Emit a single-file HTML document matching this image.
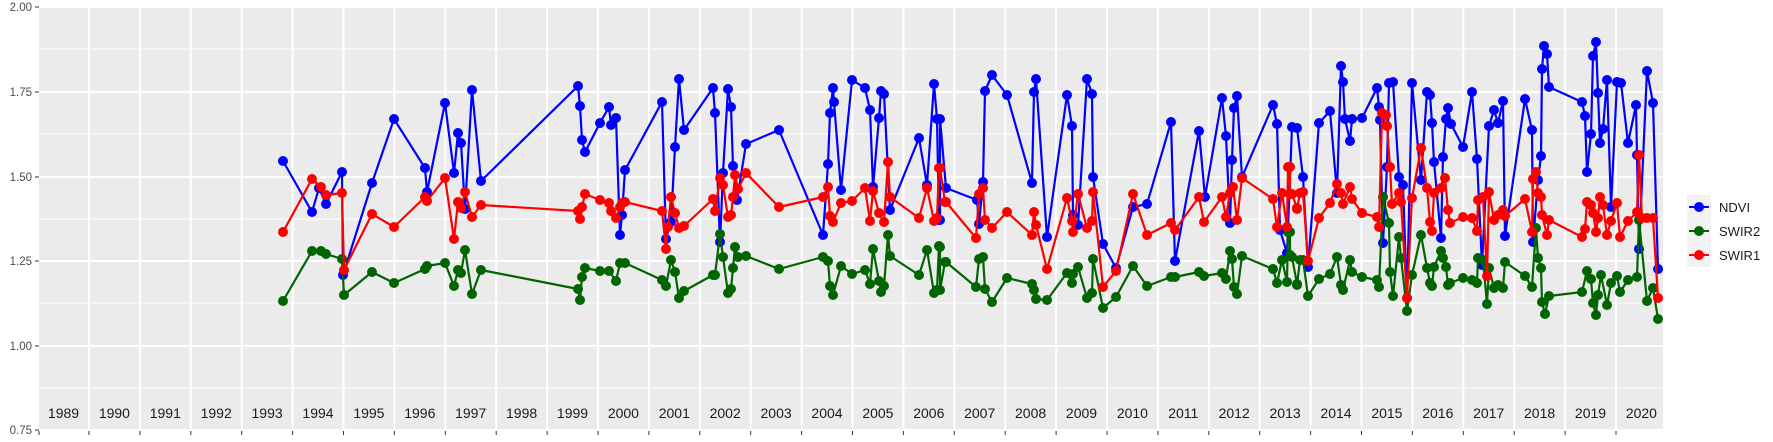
<!DOCTYPE html>
<html><head><meta charset="utf-8"><style>
html,body{margin:0;padding:0;background:#fff;}
svg{display:block;font-family:"Liberation Sans",sans-serif;}
</style></head><body>
<svg id="s" width="1773" height="442" xmlns="http://www.w3.org/2000/svg">
<rect x="39" y="7" width="1624" height="423" fill="#ebebeb"/>
<g stroke="#fff" stroke-width="1">
<line x1="39" x2="1663" y1="49" y2="49"/><line x1="39" x2="1663" y1="134" y2="134"/><line x1="39" x2="1663" y1="219" y2="219"/><line x1="39" x2="1663" y1="303" y2="303"/><line x1="39" x2="1663" y1="388" y2="388"/>
</g>
<g stroke="#fff" stroke-width="2">
<line x1="39" x2="1663" y1="7" y2="7"/><line x1="39" x2="1663" y1="92" y2="92"/><line x1="39" x2="1663" y1="177" y2="177"/><line x1="39" x2="1663" y1="261" y2="261"/><line x1="39" x2="1663" y1="346" y2="346"/><line x1="39" x2="1663" y1="430" y2="430"/>
</g>
<g id="vl" stroke="#fff" stroke-width="2"></g>
<g id="tk" stroke="#333" stroke-width="1"></g>
<g font-size="11.5" fill="#4d4d4d" text-anchor="end">
<text x="32" y="11">2.00</text><text x="32" y="96">1.75</text><text x="32" y="181">1.50</text><text x="32" y="265">1.25</text><text x="32" y="350">1.00</text><text x="32" y="434">0.75</text>
</g>
<g stroke="#333" stroke-width="1">
<line x1="35" x2="39" y1="7" y2="7"/><line x1="35" x2="39" y1="92" y2="92"/><line x1="35" x2="39" y1="177" y2="177"/><line x1="35" x2="39" y1="261" y2="261"/><line x1="35" x2="39" y1="346" y2="346"/><line x1="35" x2="39" y1="430" y2="430"/>
</g>
<g id="yr" font-size="14" fill="#1a1a1a" text-anchor="middle"></g>
<g id="data"></g>
<rect x="1687" y="195" width="24" height="72" fill="#f2f2f2"/>
<g stroke-width="2">
<line x1="1689" x2="1709" y1="207" y2="207" stroke="#0000ff"/><circle cx="1699" cy="207" r="5" fill="#0000ff"/>
<line x1="1689" x2="1709" y1="231" y2="231" stroke="#006400"/><circle cx="1699" cy="231" r="5" fill="#006400"/>
<line x1="1689" x2="1709" y1="255" y2="255" stroke="#ff0000"/><circle cx="1699" cy="255" r="5" fill="#ff0000"/>
</g>
<g font-size="13" fill="#1a1a1a">
<text x="1719" y="212">NDVI</text><text x="1719" y="236">SWIR2</text><text x="1719" y="260">SWIR1</text>
</g>
</svg>
<script>
var NS="http://www.w3.org/2000/svg";
function el(p,t,a){var e=document.createElementNS(NS,t);for(var k in a)e.setAttribute(k,a[k]);p.appendChild(e);return e;}
var vl=document.getElementById("vl"),tk=document.getElementById("tk"),yr=document.getElementById("yr");
for(var k=0;k<=30;k++){var x=89+50.9*k;el(vl,"line",{x1:x,x2:x,y1:7,y2:430});el(tk,"line",{x1:x,x2:x,y1:431,y2:435});}
el(tk,"line",{x1:39,x2:39,y1:431,y2:435});
for(var y=1989;y<=2020;y++){var t=el(yr,"text",{x:89+50.9*(y-1990)+25.4,y:418});t.textContent=y;}
var S2="283,301 312,251 321,251 326,254 342,259 344,295 372,272 394,283 425,269 427,266 445,263 454,286 458,270 461,273 465,250 472,294 481,270 578,289 580,300 582,277 585,268 600,271 609,271 616,281 620,263 625,263 662,280 666,286 671,260 675,272 679,298 684,291 713,275 715,275 720,234 723,257 728,293 731,289 733,268 735,247 738,257 746,256 779,269 823,257 828,261 830,286 833,295 841,266 852,274 865,270 870,284 873,249 879,281 881,292 884,286 888,235 890,256 919,275 927,250 934,293 937,290 939,246 945,262 940,247 940,290 946,262 976,287 979,259 983,257 985,289 992,302 1007,278 1032,284 1034,290 1036,299 1047,300 1067,273 1072,283 1073,274 1078,267 1087,298 1092,293 1093,259 1103,308 1116,297 1133,266 1147,286 1171,277 1175,277 1199,272 1204,276 1222,273 1226,279 1230,251 1232,259 1234,287 1237,294 1242,256 1273,269 1277,283 1282,260 1287,282 1288,232 1292,257 1297,284 1300,260 1290,232 1290,255 1297,285 1303,260 1308,296 1319,279 1330,274 1337,257 1341,285 1343,290 1350,260 1352,272 1362,277 1377,280 1379,287 1383,197 1389,223 1390,272 1393,296 1399,237 1401,258 1407,311 1412,275 1421,235 1427,268 1430,283 1432,286 1434,267 1441,251 1443,258 1446,267 1448,285 1450,283 1463,278 1472,280 1477,283 1478,258 1483,260 1487,304 1489,268 1494,288 1498,285 1503,288 1505,262 1525,276 1532,287 1536,228 1538,258 1541,268 1542,302 1545,314 1549,296 1582,292 1587,271 1591,279 1593,303 1596,315 1598,295 1601,275 1607,305 1611,283 1617,276 1620,292 1628,280 1637,277 1639,220 1647,301 1653,288 1658,319";
var ND="283,161 312,212 319,188 326,204 342,172 343,275 372,183 394,119 425,168 427,192 445,103 454,173 458,133 461,143 465,209 472,90 481,181 578,86 580,106 582,140 585,152 600,123 609,107 611,125 616,118 620,235 622,215 625,170 662,102 666,239 671,222 675,147 679,79 684,130 713,88 715,113 720,242 723,173 728,89 731,107 733,166 737,200 746,144 779,130 823,235 828,164 830,113 833,88 834,102 841,190 852,80 865,88 870,110 873,187 879,118 881,91 884,94 890,210 919,138 927,185 934,84 937,119 939,220 940,220 940,119 946,188 977,200 979,224 983,182 985,91 992,75 1007,95 1032,183 1034,92 1036,79 1047,237 1067,95 1072,126 1073,215 1078,225 1087,79 1092,94 1093,177 1103,244 1116,268 1133,207 1147,204 1171,122 1175,261 1199,131 1205,197 1222,98 1226,136 1230,223 1232,160 1234,108 1237,96 1242,177 1273,105 1277,124 1280,230 1287,253 1292,127 1297,128 1303,177 1308,267 1319,123 1330,111 1337,193 1341,66 1343,82 1345,119 1350,141 1352,119 1362,118 1377,88 1379,107 1380,120 1383,243 1387,167 1389,83 1393,82 1399,177 1403,185 1407,298 1412,83 1421,180 1427,92 1430,95 1432,123 1434,162 1441,238 1443,157 1446,119 1448,108 1451,124 1463,147 1472,92 1477,159 1482,265 1489,126 1494,110 1498,123 1503,101 1505,236 1525,99 1532,130 1533,242 1538,180 1541,156 1542,69 1544,46 1547,54 1549,87 1582,102 1585,116 1587,172 1591,134 1593,56 1596,42 1598,93 1600,143 1603,129 1607,80 1611,207 1617,82 1621,83 1628,143 1636,105 1637,155 1639,249 1647,71 1653,103 1658,269";
var S1="283,232 312,179 321,187 326,195 342,193 344,270 372,214 394,227 425,197 427,201 445,178 454,239 458,202 461,208 465,192 472,217 481,205 578,211 580,219 582,207 585,194 600,200 609,203 611,211 616,218 620,207 622,203 625,202 662,211 666,249 668,227 671,197 675,213 679,228 684,226 713,199 715,211 720,178 723,185 728,217 731,215 733,197 735,175 738,189 746,173 779,207 823,197 828,187 830,216 833,222 841,203 852,201 865,188 870,221 873,191 879,213 884,222 888,162 890,197 919,218 927,188 934,221 937,218 939,168 945,202 940,168 946,202 976,238 979,194 983,188 985,220 992,228 1007,212 1032,235 1034,212 1036,225 1047,269 1067,198 1072,221 1073,232 1078,194 1087,228 1092,221 1093,192 1103,287 1116,271 1133,194 1147,235 1171,223 1175,230 1199,197 1204,222 1222,197 1226,217 1230,193 1233,187 1237,220 1242,178 1273,199 1277,227 1282,193 1287,227 1288,167 1292,194 1297,208 1300,193 1290,167 1290,194 1297,209 1303,192 1308,261 1319,218 1330,203 1337,184 1341,193 1343,204 1350,187 1352,199 1362,213 1377,217 1379,227 1382,113 1386,115 1387,126 1390,167 1392,204 1399,193 1401,202 1407,298 1412,198 1421,148 1427,188 1430,222 1432,231 1434,193 1441,188 1445,178 1448,210 1450,223 1463,217 1472,218 1477,231 1478,200 1483,197 1487,276 1489,192 1494,220 1498,215 1503,210 1505,216 1525,199 1532,232 1533,179 1536,172 1538,193 1541,197 1542,215 1547,235 1549,220 1582,237 1585,229 1587,202 1591,205 1593,213 1596,232 1598,218 1600,197 1603,205 1607,235 1611,221 1617,203 1620,237 1628,221 1637,212 1639,155 1642,218 1647,218 1653,218 1658,298";
var g=document.getElementById("data");
function draw(str,col){var pts=str.split(" ").map(function(p){return p.split(",").map(Number);});
pts.sort(function(a,b){return a[0]-b[0];});
el(g,"polyline",{points:pts.map(function(p){return p.join(",");}).join(" "),fill:"none",stroke:col,"stroke-width":2.2,"stroke-linejoin":"round"});
pts.forEach(function(p){el(g,"circle",{cx:p[0],cy:p[1],r:5,fill:col});});}
draw(ND,"#0000ff");draw(S2,"#006400");draw(S1,"#ff0000");
</script>
</body></html>
